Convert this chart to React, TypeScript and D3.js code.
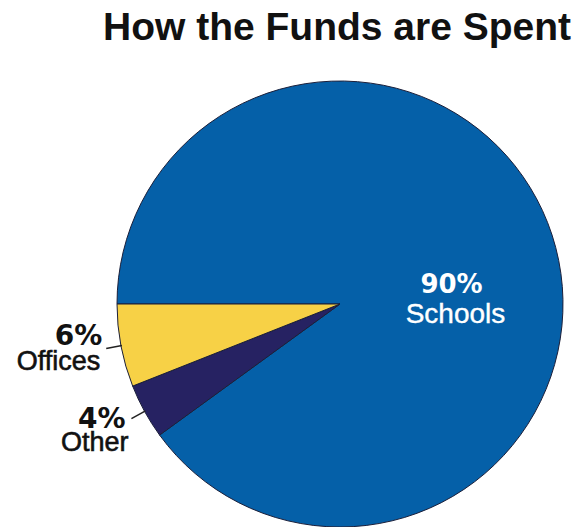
import React from "react";
import * as d3 from "d3";

const categories = ["Schools", "Other", "Offices"];
const values = [90, 4, 6];
const colors = ["#0560A8", "#262262", "#F7D146"];

const W = 584;
const H = 527;

export default function App() {
  const cx = 340;
  const cy = 304;
  const r = 223;
  const data = categories.map((c, i) => ({ name: c, value: values[i], color: colors[i] }));
  const pie = d3
    .pie<any>()
    .value((d: any) => d.value)
    .sort(null)
    .startAngle(-Math.PI / 2)
    .endAngle((3 * Math.PI) / 2);
  const arcs = pie(data);
  const arc = d3.arc<any>().innerRadius(0).outerRadius(r);
  const font = "'Liberation Sans', Arial, Helvetica, sans-serif";
  const pctFont = "'DejaVu Sans', 'Liberation Sans', sans-serif";

  // label layout offsets for outside labels: [pct dx, pct dy, name dx, name dy]
  const outside: Record<string, [number, number, number, number]> = {
    Offices: [-4, -4, -6, 21],
    Other: [-6, 9, -3, 32],
  };

  return (
    <svg width={W} height={H} style={{ position: "absolute", left: 0, top: 0, display: "block" }}>
      <rect width={W} height={H} fill="#fff" />
      <text x={103} y={40} fontFamily={font} fontWeight="bold" fontSize={39} fill="#111">
        How the Funds are Spent
      </text>
      <g transform={`translate(${cx},${cy})`}>
        {arcs.map((a, i) => (
          <path key={i} d={arc(a) || ""} fill={a.data.color} stroke="#1b1f3a" strokeWidth={1} />
        ))}
        {arcs.map((a, i) => {
          const name = a.data.name;
          if (name === "Schools") {
            const lx = r * 0.5;
            return (
              <g key={"l" + i} fill="#fff" textAnchor="middle">
                <text x={lx} y={-11} fontFamily={pctFont} fontWeight="bold" fontSize={26}>
                  {a.data.value}%
                </text>
                <text x={lx + 4} y={19} fontFamily={font} fontSize={28} stroke="#fff" strokeWidth={0.4}>
                  {name}
                </text>
              </g>
            );
          }
          const mid = (a.startAngle + a.endAngle) / 2;
          const x1 = Math.sin(mid) * (r - 1);
          const y1 = -Math.cos(mid) * (r - 1);
          const x2 = Math.sin(mid) * (r + 15);
          const y2 = -Math.cos(mid) * (r + 15);
          const [pdx, pdy, ndx, ndy] = outside[name];
          return (
            <g key={"l" + i} fill="#111" textAnchor="end">
              <line x1={x1} y1={y1} x2={x2} y2={y2} stroke="#222" strokeWidth={1.5} />
              <text x={x2 + pdx} y={y2 + pdy} fontFamily={pctFont} fontWeight="bold" fontSize={28}>
                {a.data.value}%
              </text>
              <text x={x2 + ndx} y={y2 + ndy} fontFamily={font} fontSize={27} stroke="#111" strokeWidth={0.6}>
                {name}
              </text>
            </g>
          );
        })}
      </g>
    </svg>
  );
}
